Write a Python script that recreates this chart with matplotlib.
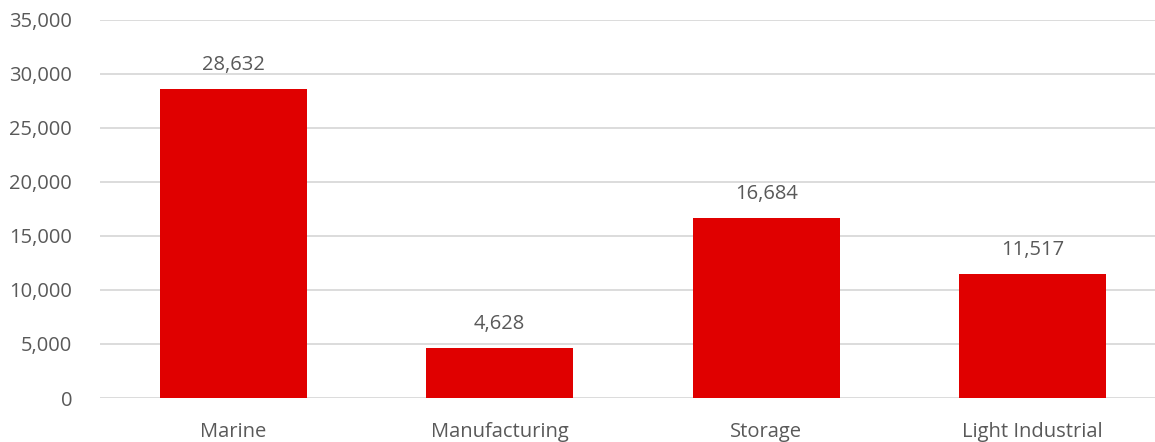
import matplotlib.pyplot as plt
from matplotlib.ticker import FuncFormatter, MultipleLocator

categories = ['Marine', 'Manufacturing', 'Storage', 'Light Industrial']
values = [28632, 4628, 16684, 11517]

bar_color = '#E00000'
text_color = '#595959'
grid_color = '#D9D9D9'

plt.rcParams['font.family'] = ['Open Sans', 'DejaVu Sans']

fig = plt.figure(figsize=(11.55, 4.42), dpi=100)
# one category slot is ~266 px wide; axes runs past the right edge like the gridlines
ax = fig.add_axes([100 / 1155, 44 / 442, 1066 / 1155, 378 / 442])

x = range(len(categories))
bars = ax.bar(x, values, width=0.55, color=bar_color, zorder=3)

for b, v in zip(bars, values):
    ax.text(b.get_x() + b.get_width() / 2, v + 1300, f'{v:,}',
            ha='center', va='bottom', fontsize=14.5, color=text_color)

ax.set_xlim(-0.5, 3.5)
ax.set_ylim(0, 35000)
ax.yaxis.set_major_locator(MultipleLocator(5000))
ax.yaxis.set_major_formatter(FuncFormatter(lambda v, p: f'{int(v):,}'))
ax.set_xticks(list(x))
ax.set_xticklabels(categories)

ax.grid(axis='y', color=grid_color, linewidth=1.3, zorder=0)
for s in ax.spines.values():
    s.set_visible(False)
ax.tick_params(axis='both', length=0, labelsize=14.5, labelcolor=text_color)
ax.tick_params(axis='y', pad=20)
ax.tick_params(axis='x', pad=17)

fig.savefig('out.png', dpi=100)
